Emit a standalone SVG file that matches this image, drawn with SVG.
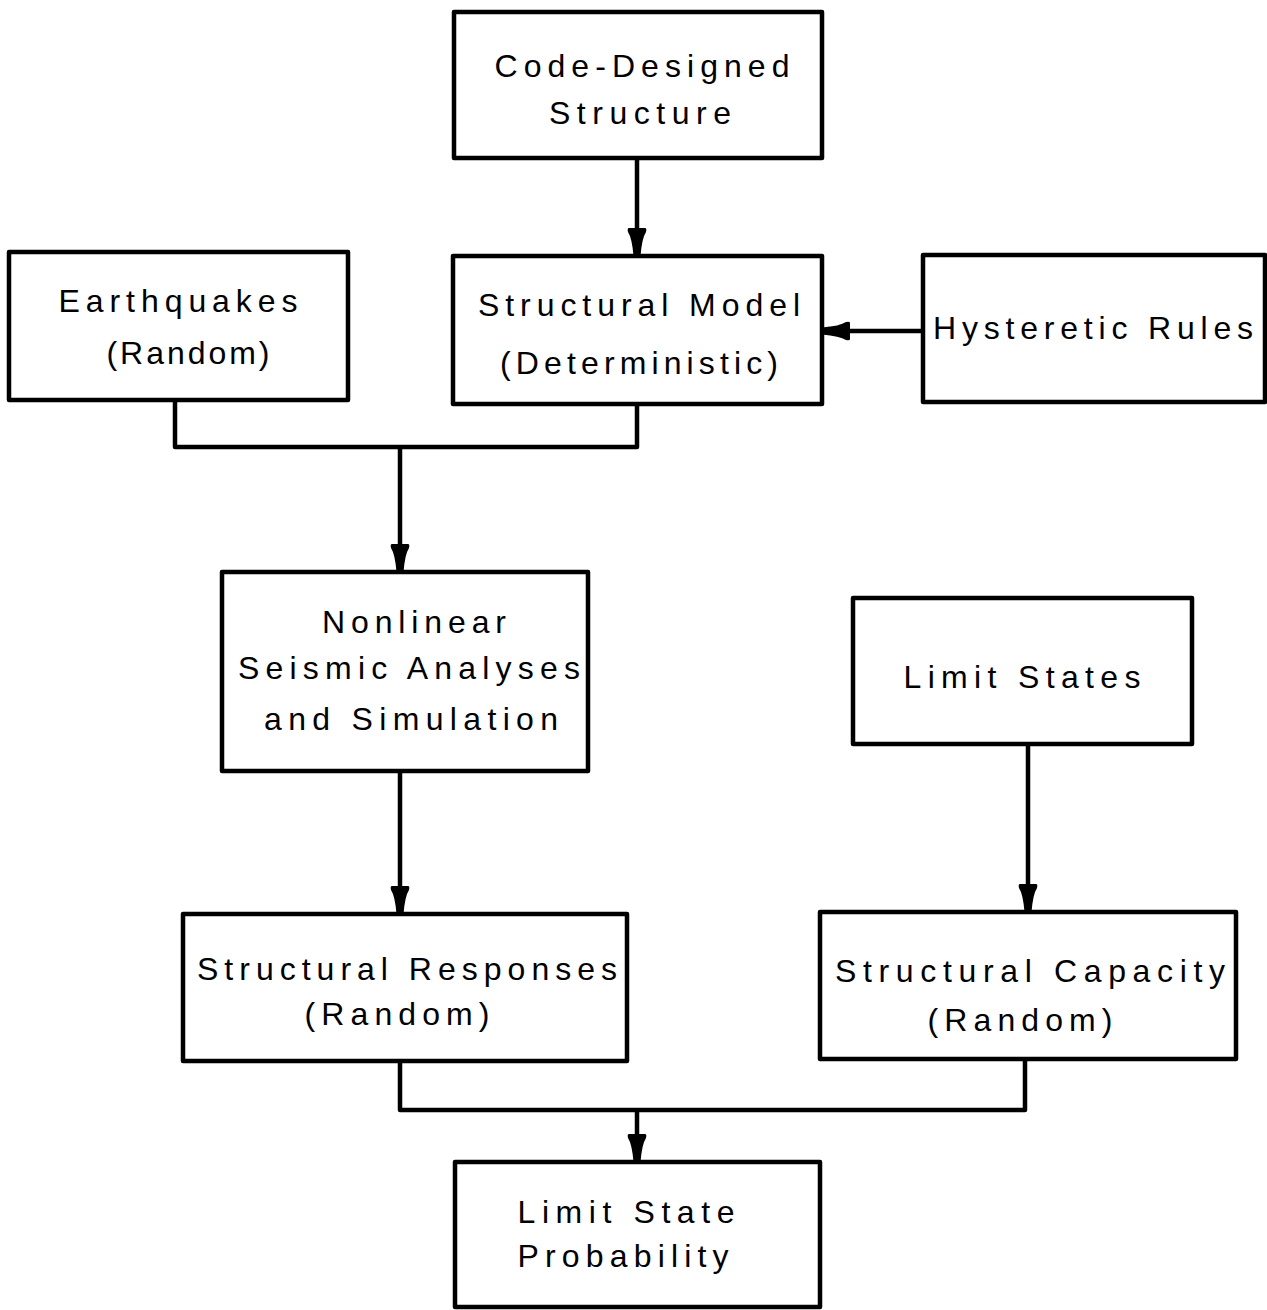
<svg xmlns="http://www.w3.org/2000/svg" width="1267" height="1310" viewBox="0 0 1267 1310">
<style>
.box{fill:#fff;stroke:#000;stroke-width:4.5;stroke-linejoin:round}
.t{font-family:"Liberation Sans",Arial,sans-serif;font-size:32px;fill:#000;text-anchor:middle}
.c{fill:none;stroke:#000;stroke-width:4.5;stroke-linejoin:round}
</style>
<defs>
<marker id="ah" markerUnits="userSpaceOnUse" markerWidth="28" markerHeight="20" viewBox="0 0 28 20" refX="28" refY="10" orient="auto">
<path d="M0,2 Q0,0 4,1 Q10,5 28,6.5 V13.5 Q10,15 4,19 Q0,20 0,18 Z" fill="#000"/>
</marker>
</defs>
<g id="connectors">
<path class="c" d="M637,158 V256" marker-end="url(#ah)"/>
<path class="c" d="M923,331 H822" marker-end="url(#ah)"/>
<path class="c" d="M175,400 V447 H637 V404"/>
<path class="c" d="M400,447 V572" marker-end="url(#ah)"/>
<path class="c" d="M400,771 V914" marker-end="url(#ah)"/>
<path class="c" d="M1028,744 V912" marker-end="url(#ah)"/>
<path class="c" d="M400,1061 V1110 H1025 V1059"/>
<path class="c" d="M637,1110 V1162" marker-end="url(#ah)"/>
</g>
<g id="code">
<rect class="box" x="454" y="12" width="368" height="146"/>
<text class="t" x="642" y="77" textLength="295" lengthAdjust="spacing">Code-Designed</text>
<text class="t" x="640" y="124" textLength="182" lengthAdjust="spacing">Structure</text>
</g>
<g id="earthquakes">
<rect class="box" x="9" y="252" width="339" height="148"/>
<text class="t" x="178" y="312" textLength="239" lengthAdjust="spacing">Earthquakes</text>
<text class="t" x="188" y="364" textLength="163" lengthAdjust="spacing">(Random)</text>
</g>
<g id="model">
<rect class="box" x="453" y="256" width="369" height="148"/>
<text class="t" x="639" y="316" textLength="322" lengthAdjust="spacing">Structural Model</text>
<text class="t" x="639" y="374" textLength="278" lengthAdjust="spacing">(Deterministic)</text>
</g>
<g id="hysteretic">
<rect class="box" x="923" y="255" width="342" height="147"/>
<text class="t" x="1093" y="339" textLength="320" lengthAdjust="spacing">Hysteretic Rules</text>
</g>
<g id="nonlinear">
<rect class="box" x="222" y="572" width="366" height="199"/>
<text class="t" x="414" y="633" textLength="184" lengthAdjust="spacing">Nonlinear</text>
<text class="t" x="409" y="679" textLength="342" lengthAdjust="spacing">Seismic Analyses</text>
<text class="t" x="411" y="730" textLength="294" lengthAdjust="spacing">and Simulation</text>
</g>
<g id="limitstates">
<rect class="box" x="853" y="598" width="339" height="146"/>
<text class="t" x="1022" y="688" textLength="237" lengthAdjust="spacing">Limit States</text>
</g>
<g id="responses">
<rect class="box" x="183" y="914" width="444" height="147"/>
<text class="t" x="407" y="980" textLength="420" lengthAdjust="spacing">Structural Responses</text>
<text class="t" x="397" y="1025" textLength="185" lengthAdjust="spacing">(Random)</text>
</g>
<g id="capacity">
<rect class="box" x="820" y="912" width="416" height="147"/>
<text class="t" x="1030" y="982" textLength="390" lengthAdjust="spacing">Structural Capacity</text>
<text class="t" x="1020" y="1031" textLength="185" lengthAdjust="spacing">(Random)</text>
</g>
<g id="probability">
<rect class="box" x="455" y="1162" width="365" height="145"/>
<text class="t" x="626" y="1223" textLength="217" lengthAdjust="spacing">Limit State</text>
<text class="t" x="623" y="1267" textLength="211" lengthAdjust="spacing">Probability</text>
</g>
</svg>
